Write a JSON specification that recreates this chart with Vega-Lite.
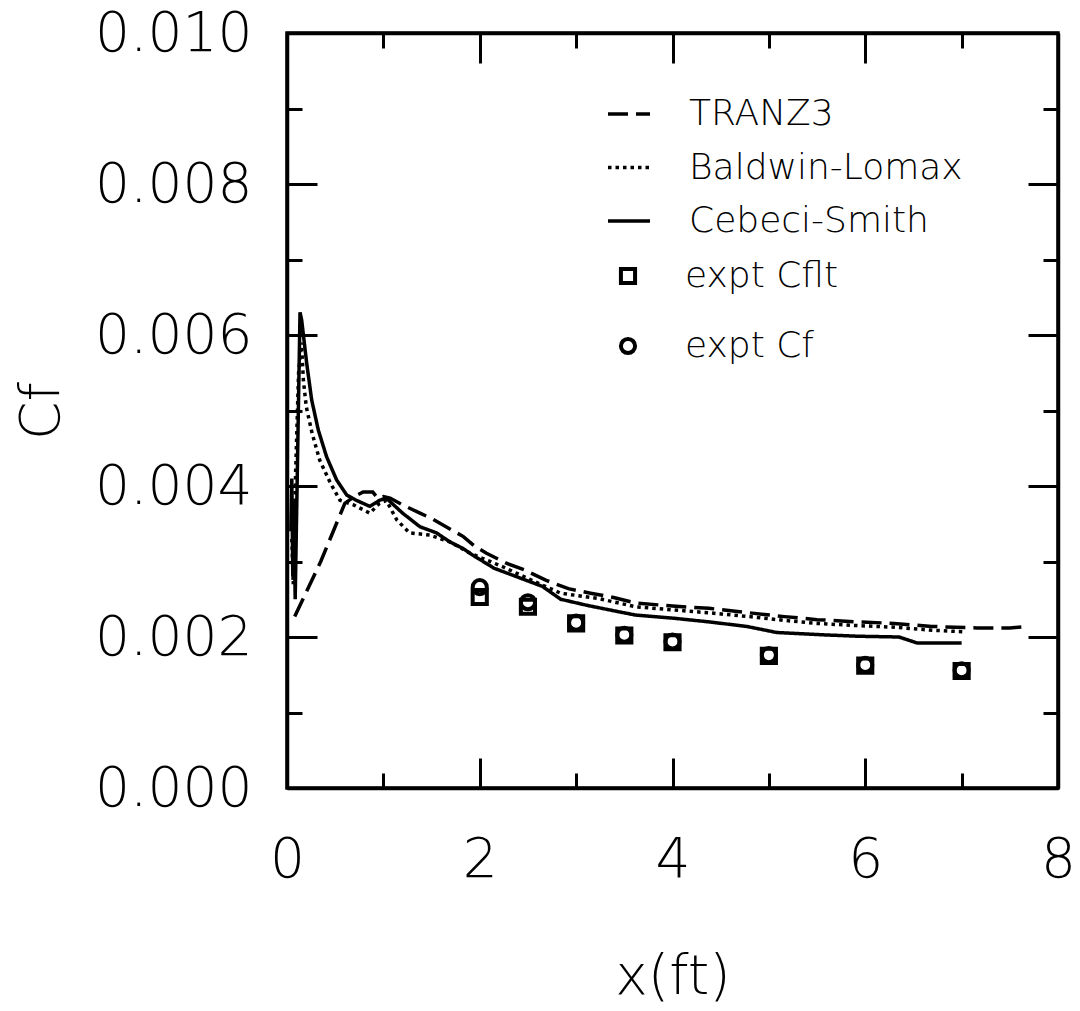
{
  "$schema": "https://vega.github.io/schema/vega-lite/v6.json",
  "width": 771,
  "height": 755,
  "autosize": {"type": "none"},
  "padding": {"left": 287, "top": 33, "right": 22, "bottom": 223},
  "background": "white",
  "config": {
    "view": {"stroke": "black", "strokeWidth": 3.5},
    "font": "DejaVu Sans",
    "axis": {"grid": false, "domainColor": "black", "domainWidth": 3.5, "tickColor": "black", "tickWidth": 3, "labelColor": "black", "titleColor": "black", "labelFontWeight": 200, "titleFontWeight": 200, "labelOverlap": false, "labelFlush": false},
    "legend": {"labelFontWeight": 200, "labelColor": "black", "padding": 0, "labelLimit": 0}
  },
  "datasets": {
    "cf": [
      {"series": "TRANZ3", "x": 0.08, "Cf": 0.00227},
      {"series": "TRANZ3", "x": 0.35, "Cf": 0.00300},
      {"series": "TRANZ3", "x": 0.6, "Cf": 0.00377},
      {"series": "TRANZ3", "x": 0.7, "Cf": 0.00386},
      {"series": "TRANZ3", "x": 0.79, "Cf": 0.00392},
      {"series": "TRANZ3", "x": 0.89, "Cf": 0.00392},
      {"series": "TRANZ3", "x": 0.94, "Cf": 0.00384},
      {"series": "TRANZ3", "x": 1.0, "Cf": 0.00386},
      {"series": "TRANZ3", "x": 1.07, "Cf": 0.00384},
      {"series": "TRANZ3", "x": 1.2, "Cf": 0.00375},
      {"series": "TRANZ3", "x": 1.38, "Cf": 0.00364},
      {"series": "TRANZ3", "x": 1.5, "Cf": 0.00357},
      {"series": "TRANZ3", "x": 1.65, "Cf": 0.00346},
      {"series": "TRANZ3", "x": 1.83, "Cf": 0.00333},
      {"series": "TRANZ3", "x": 1.95, "Cf": 0.00320},
      {"series": "TRANZ3", "x": 2.07, "Cf": 0.00311},
      {"series": "TRANZ3", "x": 2.27, "Cf": 0.00298},
      {"series": "TRANZ3", "x": 2.46, "Cf": 0.00289},
      {"series": "TRANZ3", "x": 2.69, "Cf": 0.00275},
      {"series": "TRANZ3", "x": 2.92, "Cf": 0.00264},
      {"series": "TRANZ3", "x": 3.15, "Cf": 0.00258},
      {"series": "TRANZ3", "x": 3.4, "Cf": 0.00252},
      {"series": "TRANZ3", "x": 3.62, "Cf": 0.00245},
      {"series": "TRANZ3", "x": 4.0, "Cf": 0.00241},
      {"series": "TRANZ3", "x": 4.38, "Cf": 0.00238},
      {"series": "TRANZ3", "x": 4.8, "Cf": 0.00232},
      {"series": "TRANZ3", "x": 5.16, "Cf": 0.00227},
      {"series": "TRANZ3", "x": 5.5, "Cf": 0.00223},
      {"series": "TRANZ3", "x": 5.93, "Cf": 0.00220},
      {"series": "TRANZ3", "x": 6.3, "Cf": 0.00218},
      {"series": "TRANZ3", "x": 6.69, "Cf": 0.00214},
      {"series": "TRANZ3", "x": 7.16, "Cf": 0.00212},
      {"series": "TRANZ3", "x": 7.5, "Cf": 0.00212},
      {"series": "TRANZ3", "x": 7.7, "Cf": 0.00214},
      {"series": "Baldwin-Lomax", "x": 0.05, "Cf": 0.0033},
      {"series": "Baldwin-Lomax", "x": 0.065, "Cf": 0.0027},
      {"series": "Baldwin-Lomax", "x": 0.09, "Cf": 0.0042},
      {"series": "Baldwin-Lomax", "x": 0.12, "Cf": 0.0055},
      {"series": "Baldwin-Lomax", "x": 0.15, "Cf": 0.0059},
      {"series": "Baldwin-Lomax", "x": 0.17, "Cf": 0.0054},
      {"series": "Baldwin-Lomax", "x": 0.2, "Cf": 0.00505},
      {"series": "Baldwin-Lomax", "x": 0.26, "Cf": 0.0047},
      {"series": "Baldwin-Lomax", "x": 0.34, "Cf": 0.00434},
      {"series": "Baldwin-Lomax", "x": 0.45, "Cf": 0.00404},
      {"series": "Baldwin-Lomax", "x": 0.55, "Cf": 0.00381},
      {"series": "Baldwin-Lomax", "x": 0.69, "Cf": 0.00375},
      {"series": "Baldwin-Lomax", "x": 0.86, "Cf": 0.00364},
      {"series": "Baldwin-Lomax", "x": 0.96, "Cf": 0.00377},
      {"series": "Baldwin-Lomax", "x": 1.03, "Cf": 0.00381},
      {"series": "Baldwin-Lomax", "x": 1.14, "Cf": 0.00355},
      {"series": "Baldwin-Lomax", "x": 1.27, "Cf": 0.00338},
      {"series": "Baldwin-Lomax", "x": 1.48, "Cf": 0.00335},
      {"series": "Baldwin-Lomax", "x": 1.69, "Cf": 0.00326},
      {"series": "Baldwin-Lomax", "x": 1.9, "Cf": 0.00311},
      {"series": "Baldwin-Lomax", "x": 2.24, "Cf": 0.00293},
      {"series": "Baldwin-Lomax", "x": 2.54, "Cf": 0.00275},
      {"series": "Baldwin-Lomax", "x": 2.84, "Cf": 0.00258},
      {"series": "Baldwin-Lomax", "x": 3.23, "Cf": 0.00251},
      {"series": "Baldwin-Lomax", "x": 3.62, "Cf": 0.00240},
      {"series": "Baldwin-Lomax", "x": 4.0, "Cf": 0.00236},
      {"series": "Baldwin-Lomax", "x": 4.38, "Cf": 0.00232},
      {"series": "Baldwin-Lomax", "x": 4.8, "Cf": 0.00227},
      {"series": "Baldwin-Lomax", "x": 5.16, "Cf": 0.00222},
      {"series": "Baldwin-Lomax", "x": 5.5, "Cf": 0.00218},
      {"series": "Baldwin-Lomax", "x": 5.93, "Cf": 0.00215},
      {"series": "Baldwin-Lomax", "x": 6.3, "Cf": 0.00213},
      {"series": "Baldwin-Lomax", "x": 6.69, "Cf": 0.00209},
      {"series": "Baldwin-Lomax", "x": 7.02, "Cf": 0.00207},
      {"series": "Cebeci-Smith", "x": 0.04, "Cf": 0.0034},
      {"series": "Cebeci-Smith", "x": 0.05, "Cf": 0.0041},
      {"series": "Cebeci-Smith", "x": 0.06, "Cf": 0.0028},
      {"series": "Cebeci-Smith", "x": 0.07, "Cf": 0.0038},
      {"series": "Cebeci-Smith", "x": 0.085, "Cf": 0.0025},
      {"series": "Cebeci-Smith", "x": 0.135, "Cf": 0.0063},
      {"series": "Cebeci-Smith", "x": 0.152, "Cf": 0.0062},
      {"series": "Cebeci-Smith", "x": 0.204, "Cf": 0.00563},
      {"series": "Cebeci-Smith", "x": 0.256, "Cf": 0.00514},
      {"series": "Cebeci-Smith", "x": 0.325, "Cf": 0.00474},
      {"series": "Cebeci-Smith", "x": 0.41, "Cf": 0.00439},
      {"series": "Cebeci-Smith", "x": 0.515, "Cf": 0.00408},
      {"series": "Cebeci-Smith", "x": 0.62, "Cf": 0.00388},
      {"series": "Cebeci-Smith", "x": 0.72, "Cf": 0.00381},
      {"series": "Cebeci-Smith", "x": 0.86, "Cf": 0.00373},
      {"series": "Cebeci-Smith", "x": 0.96, "Cf": 0.00381},
      {"series": "Cebeci-Smith", "x": 1.03, "Cf": 0.00384},
      {"series": "Cebeci-Smith", "x": 1.2, "Cf": 0.00364},
      {"series": "Cebeci-Smith", "x": 1.38, "Cf": 0.00346},
      {"series": "Cebeci-Smith", "x": 1.55, "Cf": 0.00338},
      {"series": "Cebeci-Smith", "x": 1.69, "Cf": 0.00326},
      {"series": "Cebeci-Smith", "x": 1.83, "Cf": 0.00317},
      {"series": "Cebeci-Smith", "x": 1.92, "Cf": 0.00309},
      {"series": "Cebeci-Smith", "x": 2.15, "Cf": 0.00291},
      {"series": "Cebeci-Smith", "x": 2.38, "Cf": 0.00280},
      {"series": "Cebeci-Smith", "x": 2.65, "Cf": 0.00267},
      {"series": "Cebeci-Smith", "x": 2.84, "Cf": 0.00250},
      {"series": "Cebeci-Smith", "x": 3.11, "Cf": 0.00242},
      {"series": "Cebeci-Smith", "x": 3.42, "Cf": 0.00234},
      {"series": "Cebeci-Smith", "x": 3.62, "Cf": 0.00229},
      {"series": "Cebeci-Smith", "x": 4.0, "Cf": 0.00225},
      {"series": "Cebeci-Smith", "x": 4.38, "Cf": 0.00220},
      {"series": "Cebeci-Smith", "x": 4.77, "Cf": 0.00214},
      {"series": "Cebeci-Smith", "x": 5.08, "Cf": 0.00206},
      {"series": "Cebeci-Smith", "x": 5.54, "Cf": 0.00203},
      {"series": "Cebeci-Smith", "x": 5.93, "Cf": 0.00201},
      {"series": "Cebeci-Smith", "x": 6.35, "Cf": 0.00200},
      {"series": "Cebeci-Smith", "x": 6.54, "Cf": 0.00192},
      {"series": "Cebeci-Smith", "x": 7.0, "Cf": 0.00192}
    ],
    "expt": [
      {"series": "expt Cflt", "x": 2.0, "Cf": 0.00253},
      {"series": "expt Cflt", "x": 2.5, "Cf": 0.00240},
      {"series": "expt Cflt", "x": 3.0, "Cf": 0.00218},
      {"series": "expt Cflt", "x": 3.5, "Cf": 0.00202},
      {"series": "expt Cflt", "x": 4.0, "Cf": 0.00193},
      {"series": "expt Cflt", "x": 5.0, "Cf": 0.00175},
      {"series": "expt Cflt", "x": 6.0, "Cf": 0.00162},
      {"series": "expt Cflt", "x": 7.0, "Cf": 0.00155},
      {"series": "expt Cf", "x": 2.0, "Cf": 0.00266},
      {"series": "expt Cf", "x": 2.5, "Cf": 0.00246},
      {"series": "expt Cf", "x": 3.0, "Cf": 0.00219},
      {"series": "expt Cf", "x": 3.5, "Cf": 0.00203},
      {"series": "expt Cf", "x": 4.0, "Cf": 0.00194},
      {"series": "expt Cf", "x": 5.0, "Cf": 0.00176},
      {"series": "expt Cf", "x": 6.0, "Cf": 0.00163},
      {"series": "expt Cf", "x": 7.0, "Cf": 0.00156}
    ]
  },
  "layer": [
    {
      "data": {"name": "cf"},
      "mark": {"type": "line", "color": "black", "strokeWidth": 3.5, "interpolate": "linear"},
      "encoding": {
        "x": {"field": "x", "type": "quantitative", "scale": {"domain": [0, 8], "nice": false, "zero": false},
          "axis": {"orient": "bottom", "values": [0, 1, 2, 3, 4, 5, 6, 7, 8], "labelExpr": "datum.value % 2 === 0 ? datum.label : ''",
            "tickSize": {"condition": {"test": "datum.value % 2 === 0", "value": -30}, "value": -15},
            "labelFontSize": 55, "labelPadding": 75, "title": "x(ft)", "titleFontSize": 55, "titlePadding": 48}},
        "y": {"field": "Cf", "type": "quantitative", "scale": {"domain": [0, 0.01], "nice": false},
          "axis": {"orient": "left", "values": [0, 0.001, 0.002, 0.003, 0.004, 0.005, 0.006, 0.007, 0.008, 0.009, 0.01],
            "labelExpr": "round(datum.value * 1000) % 2 === 0 ? format(datum.value, '.3f') : ''",
            "tickSize": {"condition": {"test": "round(datum.value * 1000) % 2 === 0", "value": -30}, "value": -15},
            "labelFontSize": 55, "labelPadding": 65, "title": "Cf", "titleFontSize": 55, "titlePadding": 24}},
        "strokeDash": {"field": "series", "type": "nominal",
          "scale": {"domain": ["TRANZ3", "Baldwin-Lomax", "Cebeci-Smith"], "range": [[20, 8], [3.5, 4], [1, 0]]},
          "legend": {"title": null, "orient": "none", "legendX": 319, "legendY": 58, "symbolType": "stroke", "symbolSize": 1764,
            "symbolStrokeWidth": 3.5, "symbolStrokeColor": "black", "labelFontSize": 36, "labelOffset": 37, "rowPadding": 12.5}}
      }
    },
    {
      "data": {"name": "expt"},
      "mark": {"type": "point", "filled": false, "color": "black", "strokeWidth": 4, "size": 200, "opacity": 1},
      "encoding": {
        "x": {"field": "x", "type": "quantitative",
          "axis": {"orient": "top", "values": [0, 1, 2, 3, 4, 5, 6, 7, 8], "labels": false, "title": null,
            "tickSize": {"condition": {"test": "datum.value % 2 === 0", "value": -30}, "value": -15}}},
        "y": {"field": "Cf", "type": "quantitative",
          "axis": {"orient": "right", "values": [0, 0.001, 0.002, 0.003, 0.004, 0.005, 0.006, 0.007, 0.008, 0.009, 0.01], "labels": false, "title": null,
            "tickSize": {"condition": {"test": "round(datum.value * 1000) % 2 === 0", "value": -30}, "value": -15}}},
        "shape": {"field": "series", "type": "nominal",
          "scale": {"domain": ["expt Cflt", "expt Cf"], "range": ["square", "circle"]},
          "legend": {"title": null, "orient": "none", "legendX": 323, "legendY": 225, "symbolSize": 200, "symbolStrokeWidth": 4,
            "symbolStrokeColor": "black", "symbolFillColor": "white", "labelFontSize": 36, "labelOffset": 39, "rowPadding": 34}}
      }
    }
  ],
  "resolve": {"axis": {"x": "independent", "y": "independent"}}
}
